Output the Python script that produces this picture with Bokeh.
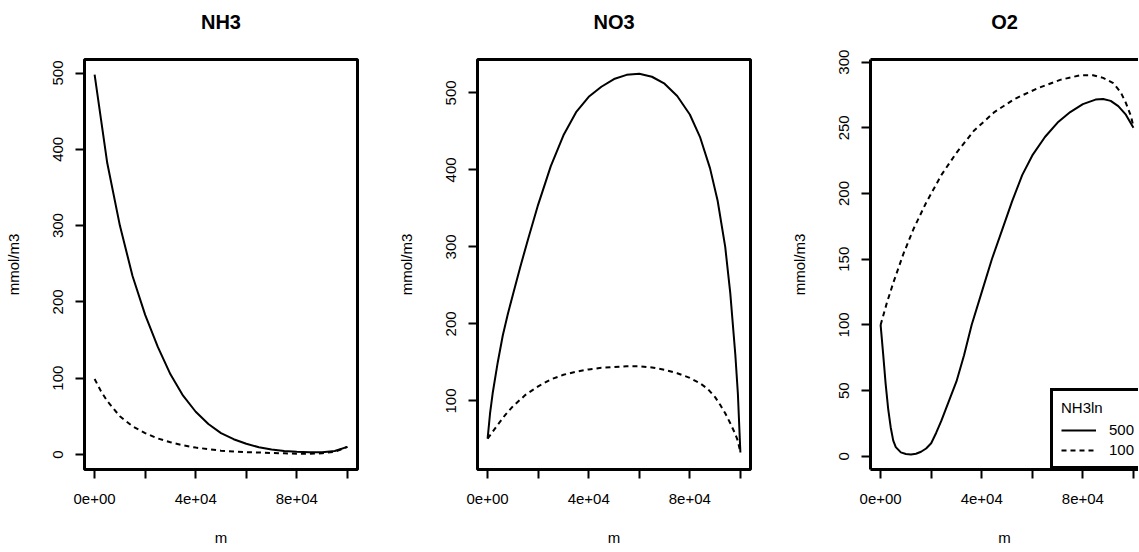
from bokeh.plotting import figure
from bokeh.models import Range1d, FixedTicker, Legend, LegendItem, LinearAxis
from bokeh.layouts import row
from bokeh.embed import file_html
from bokeh.resources import INLINE

FONT = "Liberation Sans"

# distance along river (m)
nh3_x = [0, 2500, 5000, 10000, 15000, 20000, 25000, 30000, 35000, 40000, 45000, 50000,
         55000, 60000, 65000, 70000, 75000, 80000, 85000, 90000, 95000, 100000]
nh3_500 = [498, 440, 382, 300, 234, 183, 141, 105, 77, 56, 40, 28,
           20, 14, 9.5, 6.5, 4.5, 3.5, 3, 3, 4.5, 10]
nh3_100 = [99, 83, 70, 50, 37, 28, 21, 16, 12, 9, 7, 5,
           4, 3, 2.5, 2, 1.5, 1, 1, 1.5, 3.5, 10]

no3_x_500 = [0, 1000, 2000, 4000, 6000, 8000, 10000, 13000, 16000, 20000, 25000, 30000,
             35000, 40000, 45000, 50000, 55000, 60000, 65000, 70000, 75000, 80000,
             84000, 88000, 91000, 94000, 96000, 98000, 99000, 100000]
no3_500 = [51, 85, 110, 150, 185, 213, 238, 275, 310, 355, 405, 445,
           475, 495, 508, 518, 523.5, 525, 521, 512, 496, 472,
           443, 402, 360, 300, 240, 160, 110, 33]
no3_x_100 = [0, 2000, 4000, 7000, 10000, 15000, 20000, 25000, 30000, 35000, 40000, 45000,
             50000, 55000, 60000, 65000, 70000, 75000, 80000, 84000, 87000, 90000,
             92000, 94000, 96000, 98000, 99000, 100000]
no3_100 = [51, 60, 69, 82, 93, 108, 119, 128, 134, 138, 141, 143,
           144, 145, 145, 143.5, 140.5, 136, 130, 123, 116, 105,
           95, 84, 71, 57, 48, 33]

o2_x_500 = [0, 1000, 2000, 3000, 4000, 5000, 6000, 8000, 10000, 12000, 14000, 16000,
            18000, 20000, 22000, 24000, 27000, 30000, 33000, 36000, 40000, 44000,
            48000, 52000, 56000, 60000, 65000, 70000, 75000, 80000, 85000, 88000,
            91000, 94000, 97000, 100000]
o2_500 = [100, 78, 55, 36, 22, 12, 7, 3, 1.8, 1.5, 2, 3.5,
          6, 10, 18, 27, 42, 57, 77, 100, 125, 150,
          172, 194, 214, 229, 243, 254, 262, 268, 271.5, 272,
          270.5, 266.5, 260, 250]
o2_x_100 = [0, 2500, 5000, 9000, 13000, 18000, 24000, 30000, 37000, 45000, 53000, 62000,
            71000, 79000, 84000, 88000, 92000, 95000, 97000, 99000, 100000]
o2_100 = [100, 117, 132, 154, 173, 193, 214, 231, 248, 262, 272, 280,
          286.5, 290, 290, 288, 284, 277, 269, 259, 251]

titles = ["NH3", "NO3", "O2"]
x_ticks = [0, 20000, 40000, 60000, 80000, 100000]
x_tick_labels = ["0e+00", "", "4e+04", "", "8e+04", ""]
y_ticks = [[0, 100, 200, 300, 400, 500],
           [100, 200, 300, 400, 500],
           [0, 50, 100, 150, 200, 250, 300]]
y_label = "mmol/m3"
x_label = "m"
legend_title = "NH3ln"
legend_labels = ["500", "100"]

DASH = "5 4"


def make_fig(title, width, yr, x_end, mbr, yt, outline=True):
    p = figure(width=width, height=550, x_range=Range1d(-4000, x_end),
               y_range=Range1d(*yr), output_backend="svg", toolbar_location=None,
               min_border_left=84, min_border_right=mbr, min_border_top=59,
               min_border_bottom=81)
    p.xgrid.visible = False
    p.ygrid.visible = False
    if outline:
        p.outline_line_color = "black"
        p.outline_line_width = 3
        p.outline_line_alpha = 1
    else:
        p.outline_line_color = None
    for ax in (p.xaxis[0], p.yaxis[0]):
        ax.axis_line_color = None if outline else "black"
        ax.axis_line_width = 3
        ax.minor_tick_line_color = None
        ax.major_tick_in = 0
        ax.major_tick_out = 9
        ax.major_tick_line_width = 2
        ax.major_tick_line_color = "black"
        ax.major_label_text_font = FONT
        ax.major_label_text_font_size = "15px"
        ax.major_label_text_color = "black"
        ax.axis_label_text_font = FONT
        ax.axis_label_text_font_size = "15px"
        ax.axis_label_text_font_style = "normal"
        ax.axis_label_text_color = "black"
    p.xaxis.ticker = FixedTicker(ticks=x_ticks)
    p.xaxis.major_label_overrides = {t: l for t, l in zip(x_ticks, x_tick_labels)}
    p.xaxis.major_label_standoff = 15
    p.xaxis.axis_label = x_label
    p.xaxis.axis_label_standoff = 22
    p.yaxis.ticker = FixedTicker(ticks=yt)
    p.yaxis.major_label_orientation = "vertical"
    p.yaxis.major_label_standoff = 12
    p.yaxis.axis_label = y_label
    p.yaxis.axis_label_standoff = 29
    # panel title drawn as the label of an untick'd top axis
    top = LinearAxis(ticker=FixedTicker(ticks=[]), axis_label=title,
                     axis_label_text_font=FONT, axis_label_text_font_size="20px",
                     axis_label_text_font_style="bold", axis_label_text_color="black",
                     axis_label_standoff=27, major_tick_out=0, major_tick_in=0,
                     major_label_standoff=0, minor_tick_line_color=None,
                     major_label_text_font_size="0px", axis_line_width=3,
                     axis_line_color=None if outline else "black")
    p.add_layout(top, "above")
    return p


p1 = make_fig(titles[0], 393, (-19.7, 517.7), 104000, 36, y_ticks[0])
p1.line(nh3_x, nh3_500, line_color="black", line_width=2)
p1.line(nh3_x, nh3_100, line_color="black", line_width=2, line_dash=DASH)

p2 = make_fig(titles[1], 393, (11, 543.4), 104000, 36, y_ticks[1])
p2.line(no3_x_500, no3_500, line_color="black", line_width=2)
p2.line(no3_x_100, no3_100, line_color="black", line_width=2, line_dash=DASH)

p3 = make_fig(titles[2], 352, (-10, 302), 102000, 0, y_ticks[2], outline=False)
r_a = p3.line(o2_x_500, o2_500, line_color="black", line_width=2)
r_b = p3.line(o2_x_100, o2_100, line_color="black", line_width=2, line_dash=DASH)

legend = Legend(items=[LegendItem(label=legend_labels[0], renderers=[r_a]),
                       LegendItem(label=legend_labels[1], renderers=[r_b])],
                location=(180, 0), title=legend_title)
legend.border_line_color = "black"
legend.border_line_width = 3
legend.border_line_alpha = 1
legend.background_fill_color = "white"
legend.background_fill_alpha = 1
legend.padding = 8
legend.margin = 0
legend.spacing = 3
legend.label_height = 16
legend.glyph_height = 16
legend.glyph_width = 35
legend.label_standoff = 13
legend.label_text_font = FONT
legend.label_text_font_size = "15px"
legend.label_text_color = "black"
legend.title_text_font = FONT
legend.title_text_font_size = "15px"
legend.title_text_font_style = "normal"
legend.title_text_color = "black"
legend.title_standoff = 5
p3.add_layout(legend)

layout = row(p1, p2, p3)
open("out.html", "w").write(file_html(layout, INLINE))
